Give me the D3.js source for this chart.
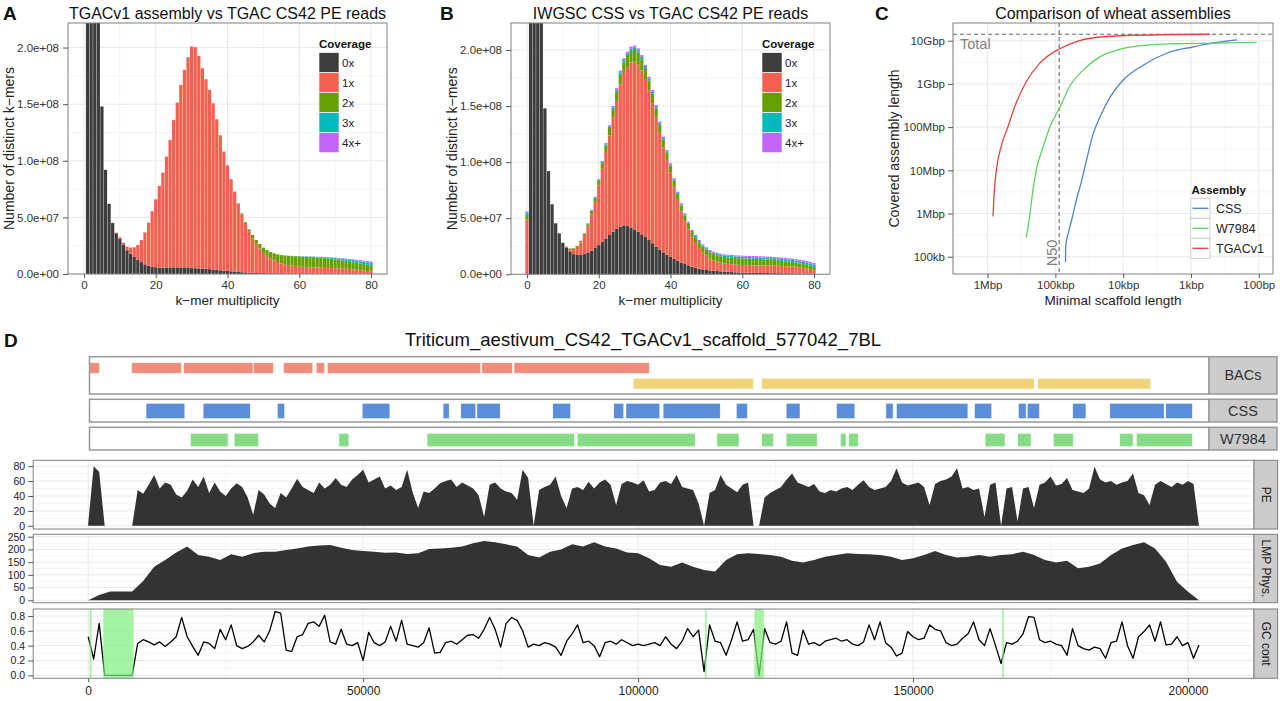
<!DOCTYPE html>
<html>
<head>
<meta charset="utf-8">
<script src="https://cdn.jsdelivr.net/npm/d3@7"></script>
<style>
  body { margin: 0; background: #fff; }
  svg { display: block; }
  text { font-family: "Liberation Sans", Arial, Helvetica, sans-serif; }
</style>
</head>
<body>
<svg id="fig" width="1280" height="701"></svg>
<script>
// ---------- data: k-mer spectra (millions of distinct k-mers) ----------
var covKeys = ["c0", "c1", "c2", "c3", "c4"];
var covLabels = ["0x", "1x", "2x", "3x", "4x+"];
var covColors = ["#3d3d3d", "#f4604f", "#66a000", "#00b9be", "#c263fa"];

// panel A, multiplicity 1..80
var aK = d3.range(1, 81);
var aC0 = [1500,800,450,260,148,92,62,45,36,31,
  26,21,18,15,12.5,10.5,8.5,7.3,6.5,6.0,
  5.7,5.5,5.4,5.3,5.3,5.3,5.3,5.3,5.3,5.2,
  5.1,5.0,4.8,4.6,4.3,4.0,3.7,3.3,3.0,2.7,
  2.4,2.1,1.8,1.6,1.4,1.2,1.0,0.9,0.8,0.7,
  0.65,0.6,0.55,0.5,0.5,0.45,0.45,0.4,0.4,0.4,
  0.4,0.35,0.35,0.35,0.35,0.35,0.3,0.3,0.3,0.3,
  0.3,0.3,0.3,0.3,0.3,0.3,0.3,0.3,0.3,0.3];
var aC1 = [0,0,0,0,0,0,0,0.2,0.5,1.4,
  1.7,3.2,5.3,8.6,13.1,19.5,28.3,38.1,48.9,60.0,
  72.1,84.0,98.3,113.1,130.7,146.1,161.7,175.0,186.2,195.8,
  195.2,187.6,176.9,167.4,158.3,146.8,133.0,119.2,105.1,93.3,
  81.3,70.7,60.1,51.0,42.7,36.1,30.7,25.7,21.7,18.0,
  15.35,13.0,11.45,10.1,9.0,8.2,7.55,7.1,6.65,6.2,
  5.95,5.7,5.55,5.47,5.35,5.2,5.1,5.05,5.0,4.8,
  4.65,4.5,4.3,4.1,3.8,3.55,3.15,2.8,2.4,1.9];
var aC2 = [0,0,0,0,0,0,0,0,0,0,
  0,0,0,0,0,0,0,0,0,0,
  0,0,0,0,0,0,0,0,0,0,
  0,0,0,0,0,0,0,0,0,0,
  0,0,0.5,1.0,1.6,2.2,2.8,3.4,4.0,4.6,
  5.2,5.8,6.3,6.8,7.2,7.6,8.0,8.3,8.6,8.9,
  9.0,9.1,9.1,9.0,8.9,8.8,8.6,8.4,8.1,7.8,
  7.5,7.2,6.9,6.6,6.3,6.0,5.8,5.6,5.4,5.2];
var aC3 = [0,0,0,0,0,0,0,0,0,0,
  0,0,0,0,0,0,0,0,0,0,
  0,0,0,0,0,0,0,0,0,0,
  0,0,0,0,0,0,0,0,0,0,
  0,0,0,0,0,0,0,0,0,0,
  0,0,0,0,0.1,0.15,0.2,0.2,0.25,0.3,
  0.35,0.4,0.45,0.5,0.6,0.7,0.8,0.9,1.0,1.2,
  1.3,1.4,1.5,1.6,1.8,1.9,2.0,2.1,2.2,2.4];
var aC4 = [0,0,0,0,0,0,0,0,0,0,
  0,0,0,0,0,0,0,0,0,0,
  0,0,0,0,0,0,0,0,0,0,
  0,0,0,0,0,0,0,0,0,0,
  0,0,0,0,0,0,0,0,0,0,
  0,0,0,0,0,0,0,0,0,0,
  0,0.05,0.05,0.08,0.1,0.15,0.2,0.25,0.3,0.4,
  0.45,0.5,0.6,0.7,0.8,0.85,0.95,1.0,1.1,1.2];

// panel B, multiplicity 0..80
var bK = d3.range(0, 81);
var bC0 = [0,
  1500,900,500,260,148,92,62.5,45.5,36.5,28,
  23.5,20.5,18,17.2,17.2,18,19.5,21,23.5,26,
  29,32,35,38,40.5,42.5,43.7,43,41.8,40,
  38,35.7,33.2,30.6,27.7,24.7,22.1,19.6,17.6,15.7,
  13.8,12,10.5,9.2,8,6.8,5.9,5,4.4,3.9,
  3.5,3.2,2.9,2.6,2.4,2.2,2,1.8,1.6,1.5,
  1.4,1.3,1.3,1.2,1.2,1.1,1.1,1.0,1.0,1.0,
  0.9,0.9,0.9,0.8,0.8,0.8,0.7,0.7,0.6,0.6];
var bC1 = [49,
  0,0,0,0,0,0,0.2,0.2,0.1,0.1,
  1.0,2.3,4.6,7.2,11.2,16.3,23.1,32.6,41.1,53.3,
  65.1,77.0,88.9,101.8,114.1,126.7,135.8,141.8,147.2,149.6,
  149.4,146.1,140.2,133.1,124.8,115.3,103.8,93.6,84.3,75.0,
  64.0,54.3,45.7,38.3,32.1,25.8,22.1,18.4,14.9,12.7,
  10.5,9.2,8.4,7.7,7.1,7.0,6.9,6.8,6.9,6.8,
  6.8,6.8,6.7,6.7,6.6,6.6,6.6,6.7,6.7,6.7,
  6.4,6.3,6.2,6.1,5.9,5.2,5.0,4.5,4.0,3.1];
var bC2 = [4,
  0,0,0,0,0,0,0,0,0,0.1,
  0.2,0.4,0.6,0.9,1.2,1.6,2.1,2.8,3.4,4.2,
  5.0,5.8,6.6,7.4,8.2,9.0,9.5,9.9,10.2,10.4,
  10.3,10.0,9.6,9.1,8.6,8.0,7.4,6.9,6.5,6.1,
  5.7,5.4,5.2,5.0,5.0,5.0,5.1,5.2,5.3,5.4,
  5.5,5.6,5.7,5.8,5.9,5.9,5.9,5.9,5.9,5.9,
  5.8,5.8,5.8,5.8,5.8,5.6,5.4,5.2,5.0,4.8,
  4.6,4.4,4.2,4.0,3.8,3.6,3.4,3.2,3.0,2.9];
var bC3 = [1.5,
  0,0,0,0,0,0,0,0,0,0,
  0,0,0,0,0.2,0.3,0.4,0.5,0.6,0.8,
  1.0,1.2,1.3,1.5,1.7,1.8,1.9,2.0,2.0,2.1,
  2.0,2.0,1.9,1.8,1.7,1.6,1.5,1.4,1.3,1.2,
  1.1,1.1,1.0,1.0,1.0,1.0,1.1,1.1,1.2,1.2,
  1.3,1.3,1.4,1.4,1.5,1.5,1.5,1.5,1.5,1.5,
  1.5,1.5,1.5,1.5,1.5,1.6,1.6,1.6,1.6,1.6,
  1.8,1.8,1.8,1.8,1.8,2.0,2.0,2.0,2.0,2.0];
var bC4 = [1.5,
  0,0,0,0,0,0,0,0,0,0,
  0,0,0,0,0.2,0.3,0.4,0.5,0.6,0.7,
  0.9,1.0,1.2,1.3,1.5,1.6,1.7,1.8,1.8,1.8,
  1.8,1.7,1.7,1.6,1.5,1.4,1.3,1.2,1.1,1.0,
  1.0,0.9,0.9,0.9,0.9,0.9,0.9,0.9,0.9,0.9,
  0.9,0.9,0.9,0.9,0.9,0.9,0.9,0.9,0.9,0.9,
  1.0,1.0,1.0,1.0,1.0,1.1,1.1,1.1,1.1,1.1,
  1.2,1.2,1.2,1.2,1.2,1.4,1.4,1.4,1.4,1.4];

// ---------- data: assembly comparison (minimal scaffold length, covered length) ----------
var asmNames = ["CSS", "W7984", "TGACv1"];
var asmColors = ["#4f7fcf", "#5fcf5f", "#e5433b"];
var cssLen = [70800,70500,64600,57500,49000,40700,34700,27500,21900,15500,10000,5000,2290,912,468,209];
var cssCov = [7.4e4,1.7e5,3.47e5,7.08e5,2.04e6,6.03e6,1.74e7,7.24e7,1.74e8,5.01e8,1.23e9,2.75e9,5.13e9,7.24e9,8.91e9,1.05e10];
var w79Len = [269000,240000,214000,191000,151000,120000,85000,61700,38900,21900,11200,5000,1620,295,107];
var w79Cov = [2.82e5,8.51e5,3.47e6,1.02e7,3.55e7,1.02e8,2.95e8,8.71e8,2.09e9,4.27e9,6.31e9,7.76e9,8.51e9,8.91e9,9.12e9];
var tgaLen = [832000,794000,741000,631000,501000,380000,269000,170000,85000,49000,27500,8900,525];
var tgaCov = [8.5e5,3.47e6,1.02e7,3.55e7,1.02e8,3.55e8,1.12e9,3.02e9,6.6e9,9.55e9,1.17e10,1.32e10,1.41e10];
var totalGenome = 1.41e10;
var n50Length = 88000;
var cYTicks = [1e5, 1e6, 1e7, 1e8, 1e9, 1e10];
var cYLabels = ["100kb", "1Mbp", "10Mbp", "100Mbp", "1Gbp", "10Gbp"];
var cXTicks = [1e6, 1e5, 1e4, 1e3, 1e2];
var cXLabels = ["1Mbp", "100kbp", "10kbp", "1kbp", "100bp"];

// ---------- data: scaffold view ----------
var bacRow1 = [[0,1800],[7600,16600],[17000,29500],[29600,33200],[35000,40300],[40900,42400],[42900,70600],[70800,76300],[76600,101000]];
var bacRow2 = [[98100,119800],[121300,170500],[171100,191500]];
var cssBlocks = [[10200,17200],[20500,29000],[33900,35200],[49200,54200],[63800,64900],[67000,69700],[69900,74100],[83600,86800],[94600,96400],[96800,102900],[103500,113800],[116700,118700],[125700,128200],[134800,138100],[143700,145000],[145600,158500],[159700,162800],[167600,169000],[169200,171400],[177400,179800],[184100,193900],[194200,199000]];
var w79Blocks = [[18200,25000],[26100,30500],[45000,46800],[60900,87500],[88000,109300],[113200,117200],[121300,123400],[125700,131300],[135500,136500],[137000,138700],[161600,165200],[167500,169900],[173900,177500],[185900,188300],[188900,199000]];

// PE coverage, one value per kbp (0..202 kbp)
var peCov = [3,80,72,0,0,0,0,0,0,48,
  43,55,68,50,58,55,42,38,47,62,
  52,66,44,58,46,40,50,57,52,38,
  15,48,42,30,24,44,38,50,63,52,
  48,44,58,50,55,64,55,52,62,68,
  75,58,62,66,50,54,48,52,75,45,
  24,46,44,50,57,60,62,52,58,54,
  50,41,12,55,58,50,46,44,35,75,
  64,0,48,52,55,66,40,24,50,52,
  48,59,50,58,62,55,28,56,60,58,
  55,61,46,48,58,60,56,68,52,50,
  48,30,0,44,48,68,55,50,45,55,
  58,0,0,38,44,48,52,62,70,58,
  55,52,56,46,44,48,46,50,52,48,
  55,61,52,48,50,52,60,77,58,54,
  56,58,52,28,56,60,62,66,77,50,
  52,48,50,12,55,58,0,50,52,6,
  50,52,24,55,58,66,54,56,64,48,
  46,44,50,79,62,58,60,55,58,60,
  70,44,41,28,55,60,56,52,58,55,
  60,56,0];
// LMP physical coverage, one value per 2 kbp (0..202 kbp)
var lmpCov = [0,21,35,35,35,76,132,158,188,211,
  178,171,158,181,171,185,191,191,198,204,
  211,215,217,207,198,194,191,187,188,182,
  185,202,204,207,211,224,233,228,220,211,
  178,168,191,200,220,211,228,211,204,188,
  185,165,139,132,149,132,119,113,158,181,
  185,182,178,171,155,149,158,171,178,185,
  182,181,178,171,158,165,178,194,178,168,
  171,178,171,178,181,191,178,158,149,155,
  126,132,145,178,204,217,228,204,152,73,
  34,0];
// GC content, one value per kbp (0..202 kbp)
var gcCont = [0.52,0.22,0.70,0,0,0,0,0,0,0.43,
  0.48,0.45,0.41,0.45,0.39,0.45,0.52,0.78,0.52,0.39,
  0.27,0.45,0.43,0.36,0.62,0.48,0.68,0.40,0.36,0.39,
  0.45,0.54,0.45,0.60,0.86,0.84,0.34,0.32,0.52,0.55,
  0.70,0.72,0.66,0.81,0.45,0.42,0.62,0.42,0.40,0.44,
  0.20,0.58,0.44,0.40,0.45,0.66,0.46,0.74,0.42,0.40,
  0.38,0.44,0.64,0.30,0.31,0.44,0.46,0.42,0.48,0.54,
  0.55,0.50,0.62,0.78,0.62,0.38,0.70,0.78,0.74,0.60,
  0.38,0.42,0.40,0.44,0.42,0.38,0.27,0.46,0.56,0.68,
  0.44,0.46,0.40,0.25,0.44,0.46,0.42,0.48,0.44,0.40,
  0.42,0.40,0.42,0.44,0.40,0.52,0.42,0.36,0.46,0.63,
  0.52,0.61,0.05,0.68,0.46,0.44,0.27,0.48,0.72,0.46,
  0.48,0.62,0,0.63,0.44,0.42,0.46,0.72,0.30,0.27,
  0.61,0.42,0.44,0.40,0.46,0.48,0.50,0.46,0.48,0.42,
  0.40,0.45,0.68,0.48,0.72,0.44,0.38,0.26,0.30,0.59,
  0.52,0.48,0.50,0.68,0.62,0.60,0.44,0.40,0.42,0.50,
  0.56,0.72,0.48,0.40,0.63,0.40,0.16,0.44,0.42,0.46,
  0.56,0.79,0.78,0.48,0.44,0.46,0.42,0.40,0.27,0.63,
  0.40,0.36,0.34,0.38,0.36,0.23,0.44,0.46,0.72,0.40,
  0.23,0.52,0.59,0.68,0.46,0.72,0.41,0.42,0.52,0.40,
  0.44,0.23,0.41];
var gcGaps = [[250,600],[2750,8250],[112150,112450],[121150,122850],[166200,166500]];
var scaffoldName = "Triticum_aestivum_CS42_TGACv1_scaffold_577042_7BL";

// ---------- drawing ----------
var svg = d3.select("#fig");
var defs = svg.append("defs");
var GRID = "#e8e8e8", GRID_MINOR = "#f5f5f5", BORDER = "#808080";

function clipRect(id, l, t, r, b) {
  defs.append("clipPath").attr("id", id).append("rect")
    .attr("x", l).attr("y", t).attr("width", r - l).attr("height", b - t);
}

function frame(g, l, t, r, b, col, w) {
  g.append("rect").attr("x", l).attr("y", t).attr("width", r - l).attr("height", b - t)
    .attr("fill", "none").attr("stroke", col || BORDER).attr("stroke-width", w || 1);
}

function styleAxis(sel, size, col, weight) {
  sel.select(".domain").remove();
  sel.selectAll(".tick line").attr("stroke", "#555");
  sel.selectAll(".tick text").attr("fill", col || "#333")
    .style("font-size", size + "px").style("font-weight", weight || "normal")
    .style("font-family", '"Liberation Sans", Arial, sans-serif');
}

function label(txt, x, y, size, opts) {
  opts = opts || {};
  var t = svg.append("text").attr("x", x).attr("y", y).text(txt)
    .style("font-size", size + "px")
    .attr("fill", opts.fill || "#111")
    .attr("text-anchor", opts.anchor || "start");
  if (opts.bold) t.style("font-weight", "bold");
  if (opts.rotate) t.attr("transform", "rotate(" + opts.rotate + "," + x + "," + y + ")");
  return t;
}

function fmtE(d) {
  return (d * 1e6).toExponential(1).replace("e+", "e+0");
}

function kmerPanel(id, o) {
  var x = d3.scaleLinear().domain([-4.45, 84.45]).range([o.left, o.right]);
  var y = d3.scaleLinear().domain([0, o.ymax]).range([o.bottom, o.top]);
  var g = svg.append("g");
  g.append("rect").attr("x", o.left).attr("y", o.top).attr("width", o.right - o.left)
    .attr("height", o.bottom - o.top).attr("fill", "#fff");
  // grid lines
  g.selectAll(".xm").data([10, 30, 50, 70]).join("line")
    .attr("x1", d => x(d)).attr("x2", d => x(d)).attr("y1", o.top).attr("y2", o.bottom).attr("stroke", GRID_MINOR);
  g.selectAll(".ym").data([25, 75, 125, 175]).join("line")
    .attr("y1", d => y(d)).attr("y2", d => y(d)).attr("x1", o.left).attr("x2", o.right).attr("stroke", GRID_MINOR);
  g.selectAll(".xg").data([0, 20, 40, 60, 80]).join("line")
    .attr("x1", d => x(d)).attr("x2", d => x(d)).attr("y1", o.top).attr("y2", o.bottom).attr("stroke", GRID);
  g.selectAll(".yg").data([0, 50, 100, 150, 200]).join("line")
    .attr("y1", d => y(d)).attr("y2", d => y(d)).attr("x1", o.left).attr("x2", o.right).attr("stroke", GRID);

  var rows = o.ks.map(function(k, i) {
    return { k: k, c0: o.c[0][i], c1: o.c[1][i], c2: o.c[2][i], c3: o.c[3][i], c4: o.c[4][i] };
  });
  var series = d3.stack().keys(covKeys)(rows);
  clipRect(id, o.left, o.top, o.right, o.bottom);
  var bw = x(0.9) - x(0);
  g.append("g").attr("clip-path", "url(#" + id + ")")
    .selectAll("g").data(series).join("g").attr("fill", (d, i) => covColors[i])
    .selectAll("rect").data(d => d).join("rect")
    .attr("x", d => x(d.data.k - 0.45)).attr("width", bw)
    .attr("y", d => y(d[1])).attr("height", d => Math.max(0, y(d[0]) - y(d[1])));
  frame(g, o.left, o.top, o.right, o.bottom);

  var ya = g.append("g").attr("transform", "translate(" + o.left + ",0)")
    .call(d3.axisLeft(y).tickValues([0, 50, 100, 150, 200]).tickFormat(fmtE).tickSize(5).tickPadding(4));
  styleAxis(ya, 11.5);
  var xa = g.append("g").attr("transform", "translate(0," + o.bottom + ")")
    .call(d3.axisBottom(x).tickValues([0, 20, 40, 60, 80]).tickSize(4).tickPadding(3));
  styleAxis(xa, 11.5);

  label(o.title, (o.left + o.right) / 2, 19, 16, { anchor: "middle" });
  label(o.letter, o.letterX, 19.5, 19, { bold: true });
  label("k\u2212mer multiplicity", (o.left + o.right) / 2, 305, 13.5, { anchor: "middle", fill: "#222" });
  label("Number of distinct k\u2212mers", o.ytitleX, (o.top + o.bottom) / 2, 14,
    { anchor: "middle", rotate: -90, fill: "#222" });

  // legend
  label("Coverage", o.legX, 48, 11.5, { bold: true });
  covLabels.forEach(function(t, i) {
    g.append("rect").attr("x", o.legX).attr("y", 52.7 + i * 20).attr("width", 20).attr("height", 20)
      .attr("fill", covColors[i]).attr("stroke", "#fff").attr("stroke-width", 0.6);
    label(t, o.legX + 23, 52.7 + i * 20 + 14, 11.5, { fill: "#222" });
  });
}

kmerPanel("clipA", {
  left: 68, right: 387, top: 23, bottom: 274, ymax: 221.7,
  ks: aK, c: [aC0, aC1, aC2, aC3, aC4],
  title: "TGACv1 assembly vs TGAC CS42 PE reads", letter: "A", letterX: 3,
  ytitleX: 14, legX: 319
});
kmerPanel("clipB", {
  left: 511, right: 830, top: 23, bottom: 274.3, ymax: 224.1,
  ks: bK, c: [bC0, bC1, bC2, bC3, bC4],
  title: "IWGSC CSS vs TGAC CS42 PE reads", letter: "B", letterX: 440,
  ytitleX: 457, legX: 762
});

// ---------- panel C ----------
(function() {
  var L = 953, R = 1273, T = 23, B = 274;
  var x = d3.scaleLog().domain([Math.pow(10, 6.51), Math.pow(10, 1.79)]).range([L, R]);
  var y = d3.scaleLog().domain([Math.pow(10, 4.6), Math.pow(10, 10.41)]).range([B, T]);
  var g = svg.append("g");
  var xMinor = [3.16e6, 3.16e5, 3.16e4, 3.16e3, 316];
  var yMinor = [3.16e5, 3.16e6, 3.16e7, 3.16e8, 3.16e9];
  g.selectAll(".xm").data(xMinor).join("line").attr("x1", d => x(d)).attr("x2", d => x(d))
    .attr("y1", T).attr("y2", B).attr("stroke", GRID_MINOR);
  g.selectAll(".ym").data(yMinor).join("line").attr("y1", d => y(d)).attr("y2", d => y(d))
    .attr("x1", L).attr("x2", R).attr("stroke", GRID_MINOR);
  g.selectAll(".xg").data(cXTicks).join("line").attr("x1", d => x(d)).attr("x2", d => x(d))
    .attr("y1", T).attr("y2", B).attr("stroke", GRID);
  g.selectAll(".yg").data(cYTicks).join("line").attr("y1", d => y(d)).attr("y2", d => y(d))
    .attr("x1", L).attr("x2", R).attr("stroke", GRID);

  clipRect("clipC", L, T, R, B);
  var gl = g.append("g").attr("clip-path", "url(#clipC)");
  gl.append("line").attr("x1", L).attr("x2", R).attr("y1", y(totalGenome)).attr("y2", y(totalGenome))
    .attr("stroke", "#666").attr("stroke-dasharray", "4,3").attr("stroke-width", 1.1);
  gl.append("line").attr("x1", x(n50Length)).attr("x2", x(n50Length)).attr("y1", T).attr("y2", B)
    .attr("stroke", "#666").attr("stroke-dasharray", "4,3").attr("stroke-width", 1.1);

  var line = d3.line().x(d => x(d[0])).y(d => y(d[1])).curve(d3.curveMonotoneX);
  var sets = [d3.zip(cssLen, cssCov), d3.zip(w79Len, w79Cov), d3.zip(tgaLen, tgaCov)];
  sets.forEach(function(s, i) {
    gl.append("path").attr("d", line(s)).attr("fill", "none")
      .attr("stroke", asmColors[i]).attr("stroke-width", 1.3);
  });
  frame(g, L, T, R, B);

  var ya = g.append("g").attr("transform", "translate(" + L + ",0)")
    .call(d3.axisLeft(y).tickValues(cYTicks).tickFormat((d, i) => cYLabels[i]).tickSize(5).tickPadding(3));
  styleAxis(ya, 11.5);
  var xa = g.append("g").attr("transform", "translate(0," + B + ")")
    .call(d3.axisBottom(x).tickValues(cXTicks).tickFormat((d, i) => cXLabels[i]).tickSize(4).tickPadding(3));
  styleAxis(xa, 11.5);

  label("Total", 960, 48.5, 14.5, { fill: "#808080" });
  label("N50", 1056.5, 253, 14.5, { fill: "#808080", anchor: "middle", rotate: -90 });
  label("Comparison of wheat assemblies", (L + R) / 2, 19, 16, { anchor: "middle" });
  label("C", 875, 19.5, 19, { bold: true });
  label("Minimal scaffold length", (L + R) / 2, 305, 13.5, { anchor: "middle", fill: "#222" });
  label("Covered assembly length", 898.5, (T + B) / 2, 14, { anchor: "middle", rotate: -90, fill: "#222" });

  label("Assembly", 1191.5, 194, 11.5, { bold: true });
  asmNames.forEach(function(n, i) {
    var ky = 198.3 + i * 20;
    g.append("rect").attr("x", 1190.7).attr("y", ky).attr("width", 19.3).attr("height", 20)
      .attr("fill", "#fff").attr("stroke", "#d0d0d0");
    g.append("line").attr("x1", 1192.5).attr("x2", 1208.5).attr("y1", ky + 10).attr("y2", ky + 10)
      .attr("stroke", asmColors[i]).attr("stroke-width", 1.3);
    label(n, 1216, ky + 14.5, 12.5, { fill: "#222" });
  });
})();

// ---------- panel D ----------
label("D", 4, 347, 19, { bold: true });
label(scaffoldName, 643, 346, 18.5, { anchor: "middle" });

(function() {
  var tx = d3.scaleLinear().domain([0, 202000]).range([89.5, 1209]);
  var SL = 1209, SR = 1277;
  var tracks = [
    { name: "BACs", top: 356.7, bottom: 394,
      rows: [{ data: bacRow1, y0: 362.7, y1: 373.3, col: "#f08c78" },
             { data: bacRow2, y0: 378.3, y1: 389, col: "#f0d47a" }] },
    { name: "CSS", top: 399.3, bottom: 422,
      rows: [{ data: cssBlocks, y0: 403.3, y1: 418.7, col: "#5b8dd9" }] },
    { name: "W7984", top: 427.3, bottom: 450,
      rows: [{ data: w79Blocks, y0: 433.3, y1: 446.7, col: "#86dc86" }] }
  ];
  tracks.forEach(function(tr) {
    var g = svg.append("g");
    g.append("rect").attr("x", tx(0)).attr("y", tr.top).attr("width", SL - tx(0))
      .attr("height", tr.bottom - tr.top).attr("fill", "#fff");
    tr.rows.forEach(function(r) {
      g.selectAll(null).data(r.data).join("rect")
        .attr("x", d => tx(d[0])).attr("width", d => tx(d[1]) - tx(d[0]))
        .attr("y", r.y0).attr("height", r.y1 - r.y0)
        .attr("fill", r.col).attr("stroke", "#fff").attr("stroke-width", 0.5);
    });
    frame(g, tx(0), tr.top, SL, tr.bottom, "#999", 1.5);
    g.append("rect").attr("x", SL).attr("y", tr.top).attr("width", SR - SL).attr("height", tr.bottom - tr.top)
      .attr("fill", "#cccccc").attr("stroke", "#999").attr("stroke-width", 1.5);
    label(tr.name, (SL + SR) / 2, (tr.top + tr.bottom) / 2 + 5, 14.5, { anchor: "middle", fill: "#333" });
  });

  // lower panels
  var L = 33.2, R = 1254, SR2 = 1277.6;
  var lx = d3.scaleLinear().domain([-10000, 212000]).range([L, R]);
  var xMajor = [0, 50000, 100000, 150000, 200000];
  var xMinor = [25000, 75000, 125000, 175000];
  var panels = [
    { name: "PE", top: 460.3, bottom: 529, dom: [-4.2, 87.8], ticks: [0, 20, 40, 60, 80],
      minor: [10, 30, 50, 70], fmt: d3.format("d") },
    { name: "LMP Phys.", top: 534.3, bottom: 602.7, dom: [-9.4, 259.4], ticks: [0, 50, 100, 150, 200, 250],
      minor: [25, 75, 125, 175, 225], fmt: d3.format("d") },
    { name: "GC cont", top: 609, bottom: 678.3, dom: [-0.04, 0.894], ticks: [0, 0.2, 0.4, 0.6, 0.8],
      minor: [0.1, 0.3, 0.5, 0.7], fmt: d3.format(".1f") }
  ];
  panels.forEach(function(p, pi) {
    var y = d3.scaleLinear().domain(p.dom).range([p.bottom, p.top]);
    var g = svg.append("g");
    g.append("rect").attr("x", L).attr("y", p.top).attr("width", R - L).attr("height", p.bottom - p.top).attr("fill", "#fff");
    g.selectAll(".xm").data(xMinor).join("line").attr("x1", d => lx(d)).attr("x2", d => lx(d))
      .attr("y1", p.top).attr("y2", p.bottom).attr("stroke", GRID_MINOR);
    g.selectAll(".ym").data(p.minor).join("line").attr("y1", d => y(d)).attr("y2", d => y(d))
      .attr("x1", L).attr("x2", R).attr("stroke", GRID_MINOR);
    g.selectAll(".xg").data(xMajor).join("line").attr("x1", d => lx(d)).attr("x2", d => lx(d))
      .attr("y1", p.top).attr("y2", p.bottom).attr("stroke", GRID);
    g.selectAll(".yg").data(p.ticks).join("line").attr("y1", d => y(d)).attr("y2", d => y(d))
      .attr("x1", L).attr("x2", R).attr("stroke", GRID);

    var cid = "clipD" + pi;
    clipRect(cid, L, p.top, R, p.bottom);
    var gc = g.append("g").attr("clip-path", "url(#" + cid + ")");
    if (pi === 0) {
      gc.append("path").attr("fill", "#333")
        .attr("d", d3.area().x((d, i) => lx(i * 1000)).y0(y(0)).y1(d => y(d))(peCov));
    } else if (pi === 1) {
      gc.append("path").attr("fill", "#333")
        .attr("d", d3.area().x((d, i) => lx(i * 2000)).y0(y(0)).y1(d => y(d))(lmpCov));
    } else {
      gc.append("path").attr("fill", "none").attr("stroke", "#000").attr("stroke-width", 1.3)
        .attr("stroke-linejoin", "round")
        .attr("d", d3.line().x((d, i) => lx(i * 1000)).y(d => y(d))(gcCont));
      gc.selectAll(".gap").data(gcGaps).join("rect")
        .attr("x", d => lx(d[0])).attr("width", d => lx(d[1]) - lx(d[0]))
        .attr("y", p.top).attr("height", p.bottom - p.top)
        .attr("fill", "#80ee80").attr("opacity", 0.72);
    }
    frame(g, L, p.top, R, p.bottom);
    g.append("rect").attr("x", R).attr("y", p.top).attr("width", SR2 - R).attr("height", p.bottom - p.top)
      .attr("fill", "#cccccc").attr("stroke", BORDER);
    label(p.name, (R + SR2) / 2 - 4, (p.top + p.bottom) / 2, 12, { anchor: "middle", rotate: 90, fill: "#1a1a1a" });

    var ya = g.append("g").attr("transform", "translate(" + L + ",0)")
      .call(d3.axisLeft(y).tickValues(p.ticks).tickFormat(p.fmt).tickSize(5).tickPadding(3));
    styleAxis(ya, 10.5, "#1a1a1a");
    if (pi === 2) {
      var xa = g.append("g").attr("transform", "translate(0," + p.bottom + ")")
        .call(d3.axisBottom(lx).tickValues(xMajor).tickFormat(d3.format("d")).tickSize(4).tickPadding(4));
      styleAxis(xa, 12, "#1a1a1a");
    }
  });
})();
</script>
</body>
</html>
